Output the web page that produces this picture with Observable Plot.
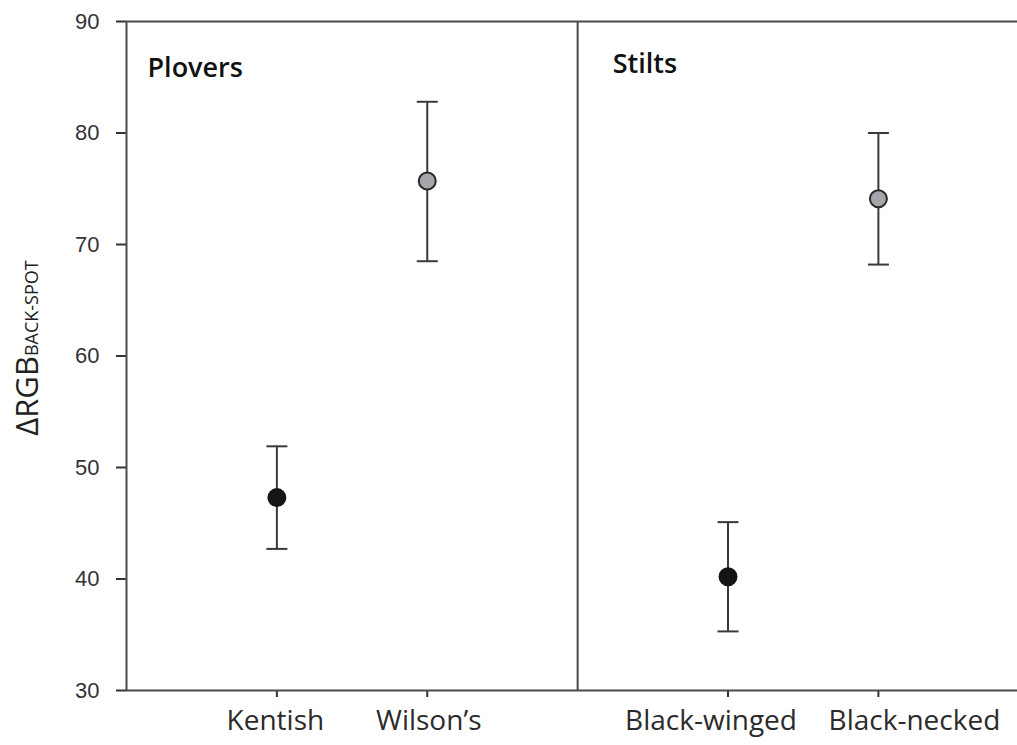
<!DOCTYPE html>
<html>
<head>
<meta charset="utf-8">
<script src="https://cdn.jsdelivr.net/npm/d3@7"></script>
<script src="https://cdn.jsdelivr.net/npm/@observablehq/plot@0.6"></script>
<style>
  html, body { margin: 0; padding: 0; background: #fff; }
  #chart { width: 1017px; height: 745px; }
</style>
</head>
<body>
<div id="chart"></div>
<script>
// ---- data ----
const species = ["Kentish", "Wilson\u2019s", "Black-winged", "Black-necked"];
const groups = ["Plovers", "Plovers", "Stilts", "Stilts"];
const plumage = ["dark", "pale", "dark", "pale"];
const means = [47.3, 75.7, 40.2, 74.1];
const lower = [42.7, 68.5, 35.3, 68.2];
const upper = [51.9, 82.8, 45.1, 80.0];
const groupNames = ["Plovers", "Stilts"];
const yTicks = [30, 40, 50, 60, 70, 80, 90];

// position of each category along x: groups separated by a divider slot
const data = species.map((s, i) => {
  const g = groupNames.indexOf(groups[i]);
  const within = groups.slice(0, i).filter(x => x === groups[i]).length;
  return {species: s, group: groups[i], plumage: plumage[i], mean: means[i], lower: lower[i], upper: upper[i], pos: g * 3 + within + 1};
});
const tickPos = data.map(d => d.pos);
const dividers = groupNames.map((g, i) => i * 3); // 0 = left edge, 3 = divider

// horizontal label nudges (pixels), as set in the original figure
const labelShift = [-1.5, 1.5, -17, 36];

const capSymbol = {draw(ctx) { ctx.moveTo(-10.5, 0); ctx.lineTo(10.5, 0); }};
const lineColor = "#4a4a4a";
const labelFont = "Open Sans, sans-serif";

const labelMarks = data.map((d, i) =>
  Plot.text([d], {x: "pos", y: 30, text: "species", dx: labelShift[i], dy: 20, lineAnchor: "top",
    fontSize: 28, fontFamily: labelFont, fill: "#2b2b2b"}));

const chart = Plot.plot({
  width: 1017,
  height: 745,
  marginLeft: 126,
  marginRight: 0,
  marginTop: 21,
  marginBottom: 55,
  style: {fontFamily: "Liberation Sans, Arial, sans-serif", color: "#2b2b2b", background: "#fff", overflow: "visible"},
  x: {domain: [0, 5.925]},
  y: {domain: [30, 90]},
  color: {domain: ["dark", "pale"], range: ["#151515", "#a5a5ab"]},
  marks: [
    Plot.axisY({ticks: yTicks, tickSize: 10, tickPadding: 17, fontSize: 22, label: null, color: "#333", strokeWidth: 2}),
    Plot.axisX({ticks: tickPos, tickFormat: () => "", tickSize: 7, label: null, color: "#333", strokeWidth: 2}),
    ...labelMarks,
    Plot.ruleY([30, 90], {stroke: lineColor, strokeWidth: 2}),
    Plot.ruleX(dividers, {stroke: lineColor, strokeWidth: 2}),
    Plot.text([groupNames[0]], {x: dividers[0], y: 90, text: d => d, textAnchor: "start", dx: 21, dy: 47,
      fontSize: 27, fontWeight: 600, fontFamily: labelFont, fill: "#111"}),
    Plot.text([groupNames[1]], {x: dividers[1], y: 90, text: d => d, textAnchor: "start", dx: 35, dy: 43,
      fontSize: 27, fontWeight: 600, fontFamily: labelFont, fill: "#111"}),
    Plot.ruleX(data, {x: "pos", y1: "lower", y2: "upper", stroke: "#3a3a3a", strokeWidth: 2}),
    Plot.dot(data, {x: "pos", y: "lower", symbol: capSymbol, r: 5, fill: "none", stroke: "#3a3a3a", strokeWidth: 2}),
    Plot.dot(data, {x: "pos", y: "upper", symbol: capSymbol, r: 5, fill: "none", stroke: "#3a3a3a", strokeWidth: 2}),
    Plot.dot(data, {x: "pos", y: "mean", r: 8.5, fill: "plumage",
      stroke: d => d.plumage === "dark" ? "#151515" : "#2a2a2a", strokeWidth: 2})
  ]
});

// y-axis title with subscript, rotated
const svg = d3.select(chart);
const t = svg.append("text")
  .attr("transform", "translate(38,348) rotate(-90)")
  .attr("text-anchor", "middle")
  .attr("fill", "#222")
  .attr("font-family", labelFont);
t.append("tspan").attr("font-size", 31).text("\u0394RGB");
t.append("tspan").attr("font-size", 18).text("BACK-SPOT");

document.getElementById("chart").appendChild(chart);
</script>
</body>
</html>
